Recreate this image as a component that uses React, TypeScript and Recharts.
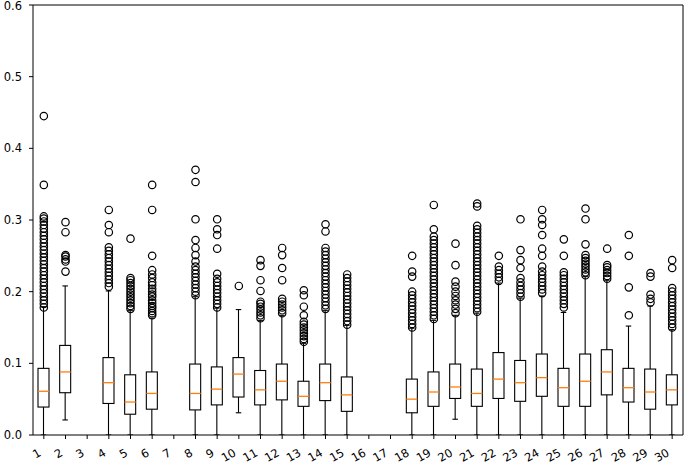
import React from 'react';
import { ComposedChart, Bar, Line, XAxis, YAxis, ReferenceLine } from 'recharts';

const categories = Array.from({ length: 30 }, (_, i) => String(i + 1));

const whiskerLow = [0, 0.021, null, 0, 0, 0, null, 0, 0, 0.031, 0, 0, 0, 0, 0, null, null, 0, 0, 0.022, 0, 0, 0, 0, 0, 0, 0, 0, 0, 0];
const q1 = [0.039, 0.059, null, 0.044, 0.029, 0.036, null, 0.035, 0.042, 0.053, 0.042, 0.049, 0.04, 0.048, 0.033, null, null, 0.031, 0.04, 0.051, 0.04, 0.051, 0.047, 0.054, 0.04, 0.04, 0.056, 0.046, 0.036, 0.042];
const median = [0.061, 0.088, null, 0.073, 0.046, 0.058, null, 0.058, 0.064, 0.085, 0.063, 0.075, 0.054, 0.073, 0.056, null, null, 0.05, 0.06, 0.067, 0.058, 0.078, 0.073, 0.08, 0.066, 0.075, 0.088, 0.066, 0.06, 0.063];
const q3 = [0.093, 0.125, null, 0.108, 0.084, 0.088, null, 0.099, 0.095, 0.108, 0.09, 0.099, 0.075, 0.099, 0.081, null, null, 0.078, 0.088, 0.099, 0.092, 0.115, 0.104, 0.113, 0.093, 0.113, 0.119, 0.093, 0.092, 0.084];
const whiskerHigh = [0.179, 0.208, null, 0.201, 0.174, 0.163, null, 0.193, 0.177, 0.175, 0.16, 0.167, 0.128, 0.174, 0.153, null, null, 0.149, 0.16, 0.167, 0.17, 0.212, 0.191, 0.194, 0.171, 0.221, 0.216, 0.152, 0.18, 0.147];

const outliers: number[][] = [
  [0.178, 0.183, 0.188, 0.193, 0.198, 0.203, 0.208, 0.213, 0.218, 0.223, 0.228, 0.233, 0.238, 0.243, 0.248, 0.253, 0.258, 0.263, 0.268, 0.273, 0.278, 0.283, 0.288, 0.293, 0.298, 0.302, 0.305, 0.349, 0.445],
  [0.228, 0.242, 0.245, 0.249, 0.251, 0.283, 0.297],
  [],
  [0.207, 0.212, 0.217, 0.222, 0.227, 0.232, 0.237, 0.242, 0.247, 0.252, 0.257, 0.262, 0.283, 0.293, 0.314],
  [0.176, 0.18, 0.184, 0.188, 0.192, 0.196, 0.2, 0.204, 0.208, 0.212, 0.216, 0.219, 0.274],
  [0.167, 0.17, 0.173, 0.177, 0.18, 0.184, 0.188, 0.193, 0.196, 0.2, 0.204, 0.209, 0.213, 0.219, 0.224, 0.23, 0.25, 0.314, 0.349],
  [],
  [0.195, 0.2, 0.205, 0.21, 0.215, 0.22, 0.225, 0.23, 0.235, 0.242, 0.251, 0.261, 0.272, 0.301, 0.353, 0.37],
  [0.178, 0.183, 0.188, 0.193, 0.198, 0.203, 0.208, 0.213, 0.218, 0.225, 0.26, 0.279, 0.287, 0.301],
  [0.208],
  [0.163, 0.167, 0.171, 0.175, 0.179, 0.183, 0.186, 0.201, 0.216, 0.236, 0.244],
  [0.17, 0.174, 0.178, 0.182, 0.186, 0.19, 0.216, 0.233, 0.251, 0.261],
  [0.13, 0.134, 0.138, 0.142, 0.146, 0.15, 0.154, 0.158, 0.167, 0.179, 0.195, 0.202],
  [0.176, 0.181, 0.186, 0.191, 0.196, 0.201, 0.206, 0.211, 0.216, 0.221, 0.226, 0.231, 0.236, 0.241, 0.246, 0.251, 0.256, 0.261, 0.284, 0.294],
  [0.154, 0.159, 0.164, 0.169, 0.174, 0.179, 0.184, 0.189, 0.194, 0.199, 0.204, 0.209, 0.214, 0.219, 0.224],
  [],
  [],
  [0.15, 0.155, 0.16, 0.165, 0.17, 0.175, 0.18, 0.185, 0.19, 0.195, 0.2, 0.221, 0.228, 0.25],
  [0.162, 0.167, 0.172, 0.177, 0.182, 0.187, 0.192, 0.197, 0.202, 0.207, 0.212, 0.217, 0.222, 0.227, 0.232, 0.237, 0.242, 0.247, 0.252, 0.257, 0.262, 0.267, 0.272, 0.277, 0.287, 0.321],
  [0.17, 0.176, 0.182, 0.188, 0.194, 0.2, 0.207, 0.214, 0.237, 0.267],
  [0.172, 0.177, 0.182, 0.187, 0.192, 0.197, 0.202, 0.207, 0.212, 0.217, 0.222, 0.227, 0.232, 0.237, 0.242, 0.247, 0.252, 0.257, 0.262, 0.267, 0.272, 0.277, 0.282, 0.287, 0.292, 0.319, 0.323],
  [0.215, 0.22, 0.225, 0.23, 0.235, 0.25],
  [0.193, 0.198, 0.203, 0.208, 0.213, 0.219, 0.233, 0.244, 0.258, 0.301],
  [0.198, 0.203, 0.208, 0.213, 0.218, 0.223, 0.228, 0.235, 0.25, 0.26, 0.279, 0.293, 0.301, 0.314],
  [0.178, 0.183, 0.188, 0.193, 0.198, 0.203, 0.208, 0.213, 0.218, 0.223, 0.227, 0.25, 0.273],
  [0.223, 0.227, 0.231, 0.235, 0.239, 0.243, 0.247, 0.251, 0.266, 0.301, 0.316],
  [0.218, 0.222, 0.226, 0.23, 0.234, 0.237, 0.26],
  [0.167, 0.206, 0.25, 0.279],
  [0.185, 0.19, 0.196, 0.221, 0.226],
  [0.15, 0.155, 0.16, 0.165, 0.17, 0.175, 0.18, 0.185, 0.19, 0.195, 0.2, 0.205, 0.233, 0.244],
];

const yTicks = [0, 0.1, 0.2, 0.3, 0.4, 0.5, 0.6];

const maxOutliers = Math.max(...outliers.map((o) => o.length));
const outlierKeys = Array.from({ length: maxOutliers }, (_, k) => `o${k}`);

const data = categories.map((name, i) => {
  const row: any = {
    name,
    lo: whiskerLow[i],
    q1: q1[i],
    med: median[i],
    q3: q3[i],
    hi: whiskerHigh[i],
  };
  outlierKeys.forEach((key, k) => {
    row[key] = outliers[i][k] ?? null;
  });
  return row;
});

const FONT = 'DejaVu Sans, sans-serif';

// draws whiskers, box and median inside the range bar [lo, hi]
const BoxShape = (props: any) => {
  const { x, y, width, height, payload } = props;
  if (payload == null || payload.hi == null) return null;
  const top = Math.min(y, y + height);
  const h = Math.abs(height);
  const span = payload.hi - payload.lo;
  const toY = (v: number) => top + ((payload.hi - v) / span) * h;
  const cx = x + width / 2;
  const yHi = toY(payload.hi);
  const yLo = toY(payload.lo);
  const yQ1 = toY(payload.q1);
  const yQ3 = toY(payload.q3);
  const yMed = toY(payload.med);
  const cap = width / 4;
  return (
    <g>
      <line x1={cx} x2={cx} y1={yHi} y2={yQ3} stroke="#000" strokeWidth={1.1} />
      <line x1={cx} x2={cx} y1={yQ1} y2={yLo} stroke="#000" strokeWidth={1.1} />
      <line x1={cx - cap} x2={cx + cap} y1={yHi} y2={yHi} stroke="#000" strokeWidth={1.1} />
      <line x1={cx - cap} x2={cx + cap} y1={yLo} y2={yLo} stroke="#000" strokeWidth={1.1} />
      <rect x={x} y={yQ3} width={width} height={yQ1 - yQ3} fill="none" stroke="#000" strokeWidth={1.1} />
      <line x1={x} x2={x + width} y1={yMed} y2={yMed} stroke="#ff7f0e" strokeWidth={1.3} />
    </g>
  );
};

const XTick = ({ x, y, payload }: any) => {
  const ax = x - 2;
  const ay = y + 14;
  return (
    <text
      x={ax}
      y={ay}
      textAnchor="end"
      transform={`rotate(-30, ${ax}, ${ay})`}
      fontSize={11.5}
      fontFamily={FONT}
      fill="#000"
    >
      {payload.value}
    </text>
  );
};

export default function App() {
  return (
    <div style={{ position: 'absolute', left: 0, top: 0, background: '#fff' }}>
      <ComposedChart width={685} height={465} data={data} margin={{ top: 5, right: 0, bottom: 0, left: 0 }}>
        <XAxis
          dataKey="name"
          interval={0}
          height={30}
          tickSize={4}
          tickMargin={2}
          stroke="#000"
          tick={<XTick />}
        />
        <YAxis
          domain={[0, 0.6]}
          ticks={yTicks}
          width={33}
          tickSize={4}
          tickMargin={7}
          stroke="#000"
          tickFormatter={(v: number) => v.toFixed(1)}
          tick={{ fill: '#000', fontSize: 11.5, fontFamily: FONT }}
          allowDataOverflow
        />
        <YAxis yAxisId="right" orientation="right" width={2} tick={false} tickLine={false} stroke="#000" />
        <ReferenceLine y={0.6} stroke="#000" strokeWidth={1} ifOverflow="extendDomain" />
        <Bar
          dataKey={(d: any) => (d.hi == null ? null : [d.lo, d.hi])}
          barSize={11}
          shape={<BoxShape />}
          isAnimationActive={false}
        />
        {outlierKeys.map((key) => (
          <Line
            key={key}
            dataKey={key}
            stroke="none"
            dot={{ r: 3.7, fill: 'none', stroke: '#000', strokeWidth: 1.2 }}
            activeDot={false}
            isAnimationActive={false}
            connectNulls={false}
          />
        ))}
      </ComposedChart>
    </div>
  );
}
